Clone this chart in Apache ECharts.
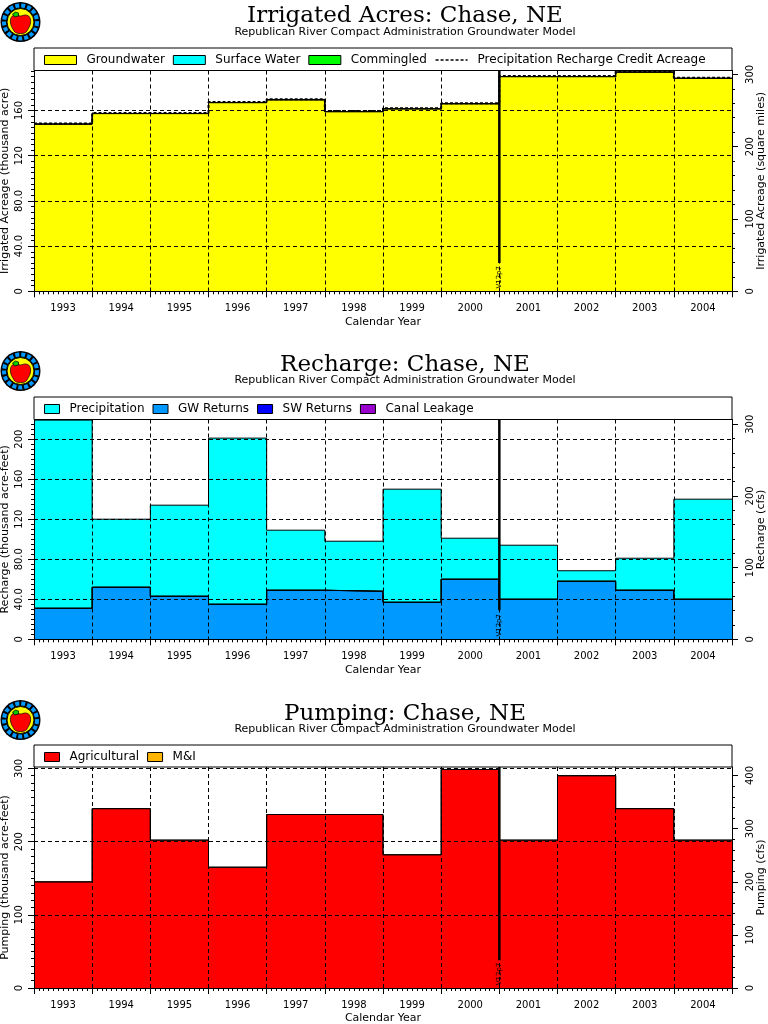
<!DOCTYPE html>
<html>
<head>
<meta charset="utf-8">
<style>html,body{margin:0;padding:0;background:#fff}#main{width:768px;height:1024px}</style>
<script src="https://cdn.jsdelivr.net/npm/echarts@6/dist/echarts.min.js"></script>
</head>
<body>
<div id="main"></div>
<script>
// Data

const years = ["1993", "1994", "1995", "1996", "1997", "1998", "1999", "2000", "2001", "2002", "2003", "2004"];
const subtitle = "Republican River Compact Administration Groundwater Model";

const groundwater = [148, 157.3, 157.3, 167, 169.5, 159, 161.5, 166, 190, 190, 194, 188.5];
const surfaceWater = [0, 0, 0, 0, 0, 0, 0, 0, 0, 0, 0, 0];
const commingled = [0, 0, 0, 0, 0, 0, 0, 0, 0, 0, 0, 0];
const creditAcreage = [148.5, 157.8, 157.8, 167.5, 170, 159.5, 162, 166.5, 190.5, 190.5, 194.5, 189];

const gwReturns = [31, 52, 43, 35, 49, 48, 37, 60, 40, 58, 49, 40];
const swReturns = [0, 0, 0, 0, 0, 0, 0, 0, 0, 0, 0, 0];
const canalLeakage = [0, 0, 0, 0, 0, 0, 0, 0, 0, 0, 0, 0];
const precipitation = [188, 68, 91, 166, 60, 50, 113, 41, 54, 10.5, 32, 100];

const agricultural = [145, 245, 202, 165, 237, 237, 182, 298.5, 202, 290, 245, 202];
const municipal = [0, 0, 0, 0, 0, 0, 0, 0, 0, 0, 0, 0];

const acresTicks = [0, 40, 80, 120, 160];
const acresTicksRight = [0, 100, 200, 300];
const rechargeTicks = [0, 40, 80, 120, 160, 200];
const rechargeTicksRight = [0, 100, 200, 300];
const pumpingTicks = [0, 100, 200, 300];
const pumpingTicksRight = [0, 100, 200, 300, 400];

// Panel layout

const PLOT_LEFT = 34;
const PLOT_WIDTH = 698;
const FONT = "DejaVu Sans";

const panels = [
    {
        "title": "Irrigated Acres: Chase, NE",
        "titleTop": 5,
        "subTop": 27,
        "logoY": 22,
        "boxTop": 48,
        "top": 70.5,
        "height": 220.8,
        "max": 195.4,
        "maxRight": 305.3,
        "ticks": acresTicks,
        "ticksRight": acresTicksRight,
        "minor": 8,
        "minorRight": 5,
        "interval": 40,
        "intervalRight": 100,
        "name": "Irrigated Acreage (thousand acre)",
        "nameRight": "Irrigated Acreage (square miles)",
        "markerBase": 25,
        "swatch": 32,
        "stack": [
            ["Groundwater", groundwater, "#ffff00"],
            ["Surface Water", surfaceWater, "#00ffff"],
            ["Commingled", commingled, "#00ff00"]
        ],
        "dashed": ["Precipitation Recharge Credit Acreage", creditAcreage]
    },
    {
        "title": "Recharge: Chase, NE",
        "titleTop": 354,
        "subTop": 375,
        "logoY": 371,
        "boxTop": 397,
        "top": 419.5,
        "height": 219.8,
        "max": 219.6,
        "maxRight": 306.6,
        "ticks": rechargeTicks,
        "ticksRight": rechargeTicksRight,
        "minor": 8,
        "minorRight": 5,
        "interval": 40,
        "intervalRight": 100,
        "name": "Recharge (thousand acre-feet)",
        "nameRight": "Recharge (cfs)",
        "markerBase": 29,
        "swatch": 15,
        "stack": [
            ["GW Returns", gwReturns, "#0099ff"],
            ["SW Returns", swReturns, "#0000ff"],
            ["Canal Leakage", canalLeakage, "#9900cc"],
            ["Precipitation", precipitation, "#00ffff"]
        ],
        "legendOrder": ["Precipitation", "GW Returns", "SW Returns", "Canal Leakage"]
    },
    {
        "title": "Pumping: Chase, NE",
        "titleTop": 703,
        "subTop": 724,
        "logoY": 720,
        "boxTop": 745,
        "top": 767,
        "height": 221,
        "max": 301.9,
        "maxRight": 416,
        "ticks": pumpingTicks,
        "ticksRight": pumpingTicksRight,
        "minor": 10,
        "minorRight": 5,
        "interval": 100,
        "intervalRight": 100,
        "name": "Pumping (thousand acre-feet)",
        "nameRight": "Pumping (cfs)",
        "markerBase": 38,
        "swatch": 15,
        "stack": [
            ["Agricultural", agricultural, "#ff0000"],
            ["M&I", municipal, "#ffb400"]
        ]
    }
];

// Functions

function stepPoints(values)
{
    // one point per year, plus a closing point so the last year gets its full width
    const pts = years.map((y, i) => [Number(y), values[i]]);
    pts.push([Number(years[years.length - 1]) + 1, values[values.length - 1]]);
    return pts;
}

function tickLabel(v)
{
    // the left axes of the original print two digit values with a decimal
    return (v > 0 && v < 100) ? v.toFixed(1) : String(v);
}

function logoGraphics(y)
{
    const x = 20.5;
    const apple = [[-9, -5], [-5, -7], [0, -6], [5, -7], [9, -5], [10, 1], [7, 8], [4, 11], [-4, 11], [-7, 8], [-10, 1]];
    const leaf = [[-8, -8], [-5, -10], [-2, -9], [-2, -6], [-6, -5]];
    const offset = (pts) => pts.map((q) => [q[0] + x, q[1] + y]);
    return [
        { "type": "circle", "z": 20, "shape": { "cx": x, "cy": y, "r": 20 }, "style": { "fill": "#000" } },
        { "type": "circle", "z": 21, "shape": { "cx": x, "cy": y, "r": 16.5 }, "style": { "fill": "none", "stroke": "#0099ff", "lineWidth": 4, "lineDash": [4, 2] } },
        { "type": "circle", "z": 22, "shape": { "cx": x, "cy": y, "r": 13.5 }, "style": { "fill": "#ffff00", "stroke": "#000", "lineWidth": 1 } },
        { "type": "polygon", "z": 23, "shape": { "points": offset(apple), "smooth": 0.4 }, "style": { "fill": "#ff0000", "stroke": "#000", "lineWidth": 0.7 } },
        { "type": "polygon", "z": 24, "shape": { "points": offset(leaf) }, "style": { "fill": "#00cc00", "stroke": "#000", "lineWidth": 0.7 } }
    ];
}

function stackedSeries(p, i)
{
    // running totals, painted top layer first so each lower layer covers the one above
    const running = years.map(() => 0);
    const layers = p.stack.map((s) =>
    {
        s[1].forEach((v, k) => { running[k] += v; });
        return { "name": s[0], "color": s[2], "values": running.slice() };
    });

    return layers.reverse().map((l) => ({
        "name": l.name,
        "type": "line",
        "xAxisIndex": i * 2,
        "yAxisIndex": i * 2,
        "step": "end",
        "symbol": "none",
        "z": 2,
        "itemStyle": { "color": l.color },
        "lineStyle": { "color": "#000", "width": 1 },
        "areaStyle": { "color": l.color, "opacity": 1 },
        "data": stepPoints(l.values)
    }));
}

function buildOption()
{
    const grid = [], xAxis = [], yAxis = [], series = [], legend = [], title = [], graphic = [];

    panels.forEach((p, i) =>
    {
        grid.push({ "left": PLOT_LEFT, "width": PLOT_WIDTH, "top": p.top, "height": p.height, "outerBoundsMode": "none" });

        title.push({
            "text": p.title,
            "left": 405,
            "top": p.titleTop,
            "padding": 0,
            "textAlign": "center",
            "textStyle": { "fontFamily": "DejaVu Serif", "fontSize": 23, "fontWeight": "normal", "color": "#000" }
        });
        title.push({
            "text": subtitle,
            "left": 405,
            "top": p.subTop,
            "padding": 0,
            "textAlign": "center",
            "textStyle": { "fontFamily": FONT, "fontSize": 11, "fontWeight": "normal", "color": "#000" }
        });

        // value axis carries the series, gridlines and month ticks
        xAxis.push({
            "type": "value",
            "gridIndex": i,
            "min": 1993,
            "max": 2005,
            "interval": 1,
            "z": 5,
            "axisLabel": { "show": false },
            "axisLine": { "show": true, "lineStyle": { "color": "#000", "width": 1 } },
            "axisTick": { "show": true, "length": 6, "lineStyle": { "color": "#000" } },
            "minorTick": { "show": true, "splitNumber": 12, "length": 3, "lineStyle": { "color": "#000" } },
            "splitLine": { "show": true, "lineStyle": { "color": "#000", "type": [4, 3], "width": 1 } }
        });
        // category axis only places the year labels between the ticks
        xAxis.push({
            "type": "category",
            "gridIndex": i,
            "position": "bottom",
            "data": years,
            "name": "Calendar Year",
            "nameLocation": "middle",
            "nameGap": 25,
            "nameTextStyle": { "fontFamily": FONT, "fontSize": 11, "color": "#000" },
            "axisLine": { "show": false },
            "axisTick": { "show": false },
            "axisLabel": { "fontFamily": FONT, "fontSize": 10, "color": "#000", "margin": 12 }
        });

        yAxis.push({
            "type": "value",
            "gridIndex": i,
            "position": "left",
            "min": 0,
            "max": p.max,
            "interval": p.interval,
            "z": 5,
            "name": p.name,
            "nameLocation": "middle",
            "nameGap": 23,
            "nameMoveOverlap": false,
            "nameTextStyle": { "fontFamily": FONT, "fontSize": 11, "color": "#000" },
            "axisLine": { "show": true, "lineStyle": { "color": "#000" } },
            "axisTick": { "show": true, "length": 6, "customValues": p.ticks, "lineStyle": { "color": "#000" } },
            "minorTick": { "show": true, "splitNumber": p.minor, "length": 3, "lineStyle": { "color": "#000" } },
            "axisLabel": { "customValues": p.ticks, "formatter": tickLabel, "rotate": 90, "fontFamily": FONT, "fontSize": 10, "color": "#000", "margin": 10 },
            "splitLine": { "show": true, "lineStyle": { "color": "#000", "type": [4, 3], "width": 1 } }
        });
        yAxis.push({
            "type": "value",
            "gridIndex": i,
            "position": "right",
            "min": 0,
            "max": p.maxRight,
            "interval": p.intervalRight,
            "z": 5,
            "name": p.nameRight,
            "nameLocation": "middle",
            "nameGap": 24,
            "nameMoveOverlap": false,
            "nameTextStyle": { "fontFamily": FONT, "fontSize": 11, "color": "#000" },
            "axisLine": { "show": true, "lineStyle": { "color": "#000" } },
            "axisTick": { "show": true, "length": 6, "customValues": p.ticksRight, "lineStyle": { "color": "#000" } },
            "minorTick": { "show": true, "splitNumber": p.minorRight, "length": 3, "lineStyle": { "color": "#000" } },
            "axisLabel": { "customValues": p.ticksRight, "rotate": 90, "fontFamily": FONT, "fontSize": 10, "color": "#000", "margin": 13 },
            "splitLine": { "show": false }
        });

        stackedSeries(p, i).forEach((s) => series.push(s));

        const legendNames = p.legendOrder || p.stack.map((s) => s[0]);
        const legendData = legendNames.map((n) =>
        {
            const s = p.stack.find((e) => e[0] === n);
            return { "name": n, "icon": "rect", "itemStyle": { "color": s[2], "borderColor": "#000", "borderWidth": 1 } };
        });

        if (p.dashed)
        {
            series.push({
                "name": p.dashed[0],
                "type": "line",
                "xAxisIndex": i * 2,
                "yAxisIndex": i * 2,
                "step": "end",
                "symbol": "none",
                "z": 6,
                "itemStyle": { "color": "#000" },
                "lineStyle": { "color": "#000", "width": 2, "type": [3, 2] },
                "data": stepPoints(p.dashed[1])
            });
            legendData.push({
                "name": p.dashed[0],
                "itemStyle": { "color": "transparent", "borderColor": "transparent", "borderWidth": 0 },
                "lineStyle": { "color": "#000", "width": 1.5, "type": [3, 2] }
            });
        }

        legend.push({
            "left": PLOT_LEFT + 10,
            "top": p.boxTop + 6,
            "orient": "horizontal",
            "itemWidth": p.swatch,
            "itemHeight": 9,
            "itemGap": 8,
            "selectedMode": false,
            "padding": 0,
            "textStyle": { "fontFamily": FONT, "fontSize": 12, "color": "#000", "padding": [0, 0, 0, 5] },
            "data": legendData
        });

        // model version marker at the end of 2000
        series.push({
            "name": "marker" + i,
            "type": "line",
            "xAxisIndex": i * 2,
            "yAxisIndex": i * 2,
            "symbol": "none",
            "silent": true,
            "z": 7,
            "lineStyle": { "color": "#000", "width": 2.5 },
            "data": [[2001, p.markerBase], [2001, p.max]]
        });

        graphic.push({
            "type": "text",
            "x": 499,
            "y": p.top + p.height - 14,
            "rotation": Math.PI / 2,
            "z": 20,
            "style": { "text": "V12p7", "fontFamily": FONT, "fontSize": 7, "fill": "#000", "textAlign": "center", "textVerticalAlign": "middle" }
        });
        graphic.push({
            "type": "rect",
            "z": 20,
            "shape": { "x": PLOT_LEFT, "y": p.boxTop, "width": PLOT_WIDTH, "height": p.top - p.boxTop },
            "style": { "fill": "none", "stroke": "#000", "lineWidth": 1 }
        });
        logoGraphics(p.logoY).forEach((g) => graphic.push(g));
    });

    return {
        "animation": false,
        "backgroundColor": "#fff",
        "title": title,
        "grid": grid,
        "xAxis": xAxis,
        "yAxis": yAxis,
        "legend": legend,
        "graphic": graphic,
        "series": series
    };
}

const chart = echarts.init(document.getElementById("main"), null, { "renderer": "canvas" });
chart.setOption(buildOption());
</script>
</body>
</html>
